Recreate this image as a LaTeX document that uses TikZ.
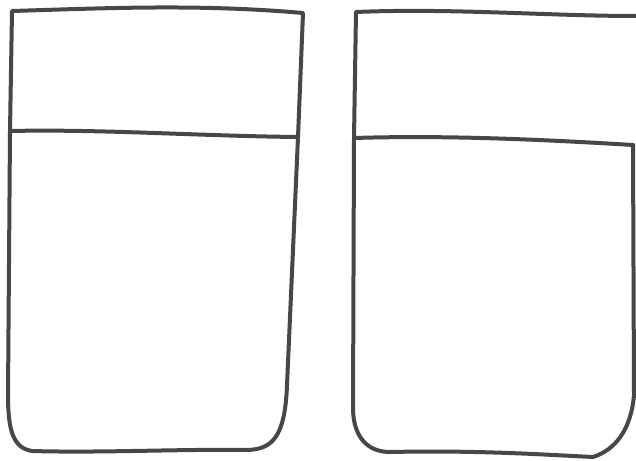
\documentclass[tikz,border=0pt]{standalone}
\usepackage{tikz}
\usetikzlibrary{positioning}

\tikzset{pen/.style={draw=black!72, line width=4pt, line cap=round, line join=round}}

\begin{document}
\begin{tikzpicture}[x=1pt,y=-1pt]
    \useasboundingbox (0,0) rectangle (636,460);

    % left glass
    \begin{scope}
      \draw[pen] (12,11) .. controls (110,8) and (200,4) .. (303,13)
        -- (298,137) -- (287,385)
        .. controls (285,438) and (272,450) .. (245,450)
        .. controls (180,449) and (100,453) .. (32,451)
        .. controls (13,448) and (8,430) .. (8,395) -- (10,131) -- cycle;
      \draw[pen] (10,131) .. controls (100,129) and (200,136) .. (298,137);
    \end{scope}

    % right glass
    \begin{scope}
      \draw[pen] (636,16) .. controls (550,16) and (450,8) .. (356,12)
        -- (354,138) -- (353,410)
        .. controls (354,440) and (370,452) .. (390,452)
        .. controls (480,450) and (550,455) .. (593,457)
        .. controls (615,450) and (631,430) .. (634,395) -- (633,145);
      \draw[pen] (354,138) .. controls (450,135) and (550,140) .. (633,145);
    \end{scope}
\end{tikzpicture}
\end{document}
